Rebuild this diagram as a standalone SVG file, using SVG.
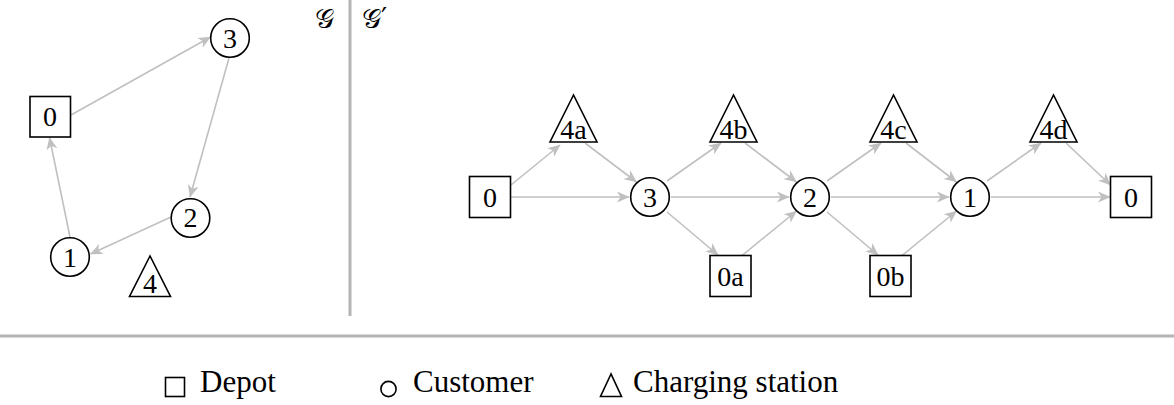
<svg xmlns="http://www.w3.org/2000/svg" width="1174" height="405" viewBox="0 0 1174 405">
<defs>
<marker id="arr" viewBox="-13 -7 14 14" refX="0" refY="0" markerWidth="14" markerHeight="14" markerUnits="userSpaceOnUse" orient="auto">
<path d="M-12,-5.5 L0.5,0 L-12,5.5 L-8.5,0 z" fill="#c0c0c0"/>
</marker>
</defs>
<style>
.n{fill:#fff;stroke:#000;stroke-width:1.6}
.t{font-family:"Liberation Serif","Times New Roman",serif;font-size:28px;fill:#000;text-anchor:middle}
.lg{font-family:"Liberation Serif","Times New Roman",serif;font-size:31px;fill:#000}
.e{stroke:#c0c0c0;stroke-width:1.6;fill:none;marker-end:url(#arr)}
.sep{stroke:#b4b4b4;stroke-width:3}
.g{font-family:"DejaVu Serif","DejaVu Sans",serif;font-size:27px;fill:#000}
</style>
<rect width="1174" height="405" fill="#fff"/>
<g id="separators">
<line class="sep" x1="350" y1="0" x2="350" y2="316"/>
<line class="sep" x1="0" y1="336" x2="1174" y2="336"/>
</g>
<g id="labels">
<text class="g" x="334" y="28" text-anchor="end">𝒢</text>
<text class="g" x="362" y="28">𝒢′</text>
</g>
<g id="connectors">
<line class="e" x1="71" y1="115" x2="210.5" y2="37"/>
<line class="e" x1="229" y1="58" x2="190" y2="197"/>
<line class="e" x1="171" y1="217" x2="90.5" y2="254"/>
<line class="e" x1="70" y1="237" x2="49.5" y2="137.5"/>
<line class="e" x1="511" y1="197" x2="629" y2="197"/>
<line class="e" x1="671" y1="197" x2="789" y2="197"/>
<line class="e" x1="831" y1="197" x2="949" y2="197"/>
<line class="e" x1="991" y1="197" x2="1110" y2="197"/>
<line class="e" x1="511" y1="185" x2="560" y2="145"/>
<line class="e" x1="667" y1="181" x2="721" y2="143"/>
<line class="e" x1="827" y1="181" x2="881" y2="143"/>
<line class="e" x1="987" y1="181" x2="1041" y2="143"/>
<line class="e" x1="585" y1="143" x2="636.5" y2="182"/>
<line class="e" x1="745" y1="143" x2="796.5" y2="182"/>
<line class="e" x1="906" y1="143" x2="956.5" y2="182"/>
<line class="e" x1="1066" y1="143" x2="1110.5" y2="185"/>
<line class="e" x1="667" y1="212" x2="718" y2="255"/>
<line class="e" x1="827" y1="212" x2="878" y2="255"/>
<line class="e" x1="742" y1="255.5" x2="796.5" y2="211"/>
<line class="e" x1="902" y1="255.5" x2="956.5" y2="211"/>
</g>
<g id="g-n0"><rect class="n" x="30" y="96.5" width="40.5" height="40.5"/><text class="t" x="50" y="126">0</text></g>
<g id="g-n3"><circle class="n" cx="230" cy="38" r="19.3"/><text class="t" x="230" y="47.5">3</text></g>
<g id="g-n2"><circle class="n" cx="190.5" cy="218" r="19.3"/><text class="t" x="190.5" y="227">2</text></g>
<g id="g-n1"><circle class="n" cx="70" cy="257" r="19.3"/><text class="t" x="70" y="266.5">1</text></g>
<g id="g-n4"><polygon class="n" points="150,256 129.5,296.5 170.5,296.5"/><text class="t" x="150" y="293">4</text></g>
<g id="gp-n0"><rect class="n" x="469.5" y="176.5" width="41" height="41"/><text class="t" x="490" y="206.5">0</text></g>
<g id="gp-n4a"><polygon class="n" points="573.5,95 550,142 597,142"/><text class="t" x="573.5" y="138.5">4a</text></g>
<g id="gp-n3"><circle class="n" cx="650" cy="197" r="19.3"/><text class="t" x="650" y="206.5">3</text></g>
<g id="gp-n4b"><polygon class="n" points="733.5,95 710,142 757,142"/><text class="t" x="733.5" y="138.5">4b</text></g>
<g id="gp-n0a"><rect class="n" x="710" y="255.5" width="41" height="41"/><text class="t" x="730.5" y="286">0a</text></g>
<g id="gp-n2"><circle class="n" cx="810" cy="197" r="19.3"/><text class="t" x="810" y="206.5">2</text></g>
<g id="gp-n4c"><polygon class="n" points="893.5,95 870,142 917,142"/><text class="t" x="893.5" y="138.5">4c</text></g>
<g id="gp-n0b"><rect class="n" x="870" y="255.5" width="41" height="41"/><text class="t" x="890.5" y="286">0b</text></g>
<g id="gp-n1"><circle class="n" cx="970" cy="197" r="19.3"/><text class="t" x="970" y="206.5">1</text></g>
<g id="gp-n4d"><polygon class="n" points="1053.5,95 1030,142 1077,142"/><text class="t" x="1053.5" y="138.5">4d</text></g>
<g id="gp-n0end"><rect class="n" x="1110.5" y="176.5" width="41" height="41"/><text class="t" x="1131" y="206.5">0</text></g>
<g id="legend">
<rect class="n" x="165.5" y="377.5" width="19" height="19"/>
<text class="lg" x="200" y="392">Depot</text>
<circle class="n" cx="388.5" cy="389" r="7.6"/>
<text class="lg" x="413" y="392">Customer</text>
<polygon class="n" points="611,374 600.5,396.5 621.5,396.5"/>
<text class="lg" x="633" y="392">Charging station</text>
</g>
</svg>
